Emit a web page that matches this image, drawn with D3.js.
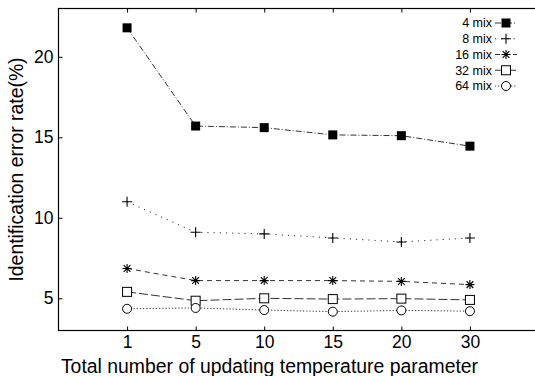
<!DOCTYPE html>
<html>
<head>
<meta charset="utf-8">
<script src="https://cdn.jsdelivr.net/npm/d3@7"></script>
<style>
  html, body { margin: 0; padding: 0; background: #fff; }
  svg { display: block; font-family: "Liberation Sans", Arial, Helvetica, sans-serif; }
</style>
</head>
<body>
<svg id="chart" width="535" height="376"></svg>
<script>
// Number of temperature-parameter updates (categorical x axis)
const updates = ["1", "5", "10", "15", "20", "30"];

// Identification error rate (%) per mixture count
const mix4  = [21.8, 15.7, 15.6, 15.15, 15.1, 14.45];
const mix8  = [11.0, 9.1, 9.0, 8.75, 8.5, 8.75];
const mix16 = [6.85, 6.1, 6.1, 6.1, 6.05, 5.85];
const mix32 = [5.4, 4.85, 5.0, 4.95, 4.98, 4.9];
const mix64 = [4.35, 4.4, 4.27, 4.17, 4.25, 4.2];

const seriesNames = ["4 mix", "8 mix", "16 mix", "32 mix", "64 mix"];
const yTicks = [5, 10, 15, 20];

const series = [
  { name: seriesNames[0], values: mix4,  dash: "6,2,1,2", marker: "fsquare" },
  { name: seriesNames[1], values: mix8,  dash: "1.2,5",   marker: "plus" },
  { name: seriesNames[2], values: mix16, dash: "5,4",     marker: "star" },
  { name: seriesNames[3], values: mix32, dash: "9,3",     marker: "osquare" },
  { name: seriesNames[4], values: mix64, dash: "1.2,2",   marker: "circle" }
];

const svg = d3.select("#chart");
const plotL = 58.5, plotR = 538.5, plotT = 8.5, plotB = 330.5;

const x = d3.scalePoint().domain(updates).range([plotL, plotR]).padding(1);
const y = d3.scaleLinear().domain([3, 23]).range([plotB, plotT]);

// Frame
svg.append("rect")
  .attr("x", plotL).attr("y", plotT)
  .attr("width", plotR - plotL).attr("height", plotB - plotT)
  .attr("fill", "none").attr("stroke", "#000").attr("stroke-width", 1.2);

const tickLen = 4;
const tickFont = 17.5;
const axisStyle = g => {
  g.select(".domain").remove();
  g.selectAll(".tick line").attr("stroke", "#000").attr("stroke-width", 1);
  g.selectAll(".tick text").attr("fill", "#000").attr("font-size", tickFont)
    .attr("font-family", "Liberation Sans, Arial, sans-serif");
};

// Bottom axis: ticks point inward
svg.append("g").attr("transform", `translate(0,${plotB})`)
  .call(d3.axisBottom(x).tickSizeInner(-tickLen).tickSizeOuter(0).tickPadding(5))
  .call(axisStyle);

// Top axis mirror ticks (no labels)
svg.append("g").attr("transform", `translate(0,${plotT})`)
  .call(d3.axisTop(x).tickSizeInner(-tickLen).tickSizeOuter(0).tickFormat(""))
  .call(axisStyle);

// Left axis
svg.append("g").attr("transform", `translate(${plotL},0)`)
  .call(d3.axisLeft(y).tickValues(yTicks).tickSizeInner(-tickLen).tickSizeOuter(0).tickPadding(5))
  .call(axisStyle);

// Axis titles
svg.append("text")
  .attr("x", 269.5).attr("y", 372.5)
  .attr("text-anchor", "middle").attr("font-size", 19.4).attr("fill", "#000")
  .text("Total number of updating temperature parameter");

svg.append("text")
  .attr("transform", `translate(23,${(plotT + plotB) / 2}) rotate(-90)`)
  .attr("text-anchor", "middle").attr("font-size", 19.4).attr("fill", "#000")
  .text("Identification error rate(%)");

// Marker drawing
function drawMarker(g, type, cx, cy) {
  const s = 4.5;
  if (type === "fsquare") {
    g.append("rect").attr("x", cx - s).attr("y", cy - s).attr("width", 2 * s).attr("height", 2 * s)
      .attr("fill", "#000");
  } else if (type === "osquare") {
    g.append("rect").attr("x", cx - s).attr("y", cy - s).attr("width", 2 * s).attr("height", 2 * s)
      .attr("fill", "#fff").attr("stroke", "#000").attr("stroke-width", 1);
  } else if (type === "circle") {
    g.append("circle").attr("cx", cx).attr("cy", cy).attr("r", s)
      .attr("fill", "#fff").attr("stroke", "#000").attr("stroke-width", 1);
  } else if (type === "plus") {
    g.append("path").attr("d", `M${cx - s - 0.5},${cy}H${cx + s + 0.5}M${cx},${cy - s - 0.5}V${cy + s + 0.5}`)
      .attr("stroke", "#000").attr("stroke-width", 1.1);
  } else if (type === "star") {
    const d = s * 0.75;
    g.append("path").attr("d",
      `M${cx - s},${cy}H${cx + s}M${cx},${cy - s}V${cy + s}` +
      `M${cx - d},${cy - d}L${cx + d},${cy + d}M${cx - d},${cy + d}L${cx + d},${cy - d}`)
      .attr("stroke", "#000").attr("stroke-width", 1.1);
  }
}

const line = d3.line().x((d, i) => x(updates[i])).y(d => y(d));

series.forEach(s => {
  svg.append("path")
    .datum(s.values)
    .attr("d", line)
    .attr("fill", "none").attr("stroke", "#333").attr("stroke-width", 1)
    .attr("stroke-dasharray", s.dash);
  const g = svg.append("g");
  s.values.forEach((v, i) => drawMarker(g, s.marker, x(updates[i]), y(v)));
});

// Legend
const legend = svg.append("g");
series.forEach((s, i) => {
  const ly = 23 + i * 15.75;
  legend.append("text")
    .attr("x", 492).attr("y", ly).attr("dy", "0.35em")
    .attr("text-anchor", "end").attr("font-size", 12.5).attr("fill", "#000")
    .text(s.name);
  legend.append("line")
    .attr("x1", 495).attr("x2", 517).attr("y1", ly).attr("y2", ly)
    .attr("stroke", "#333").attr("stroke-width", 1).attr("stroke-dasharray", s.dash);
  drawMarker(legend, s.marker, 506, ly);
});
</script>
</body>
</html>
